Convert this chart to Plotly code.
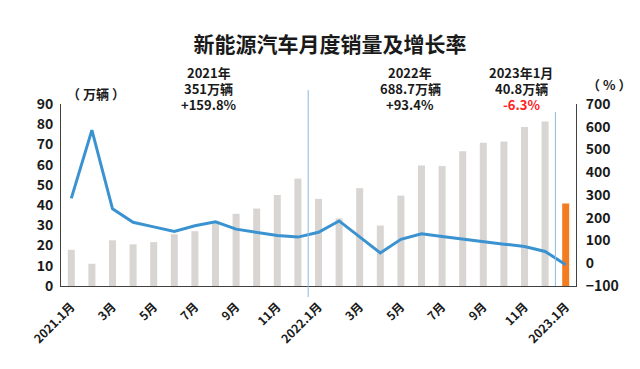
import plotly.graph_objects as go

months = ["2021.1月","2月","3月","4月","5月","6月","7月","8月","9月","10月","11月","12月",
          "2022.1月","2月","3月","4月","5月","6月","7月","8月","9月","10月","11月","12月","2023.1月"]
sales = [17.9, 11.0, 22.6, 20.6, 21.7, 25.6, 27.1, 32.1, 35.7, 38.3, 45.0, 53.1,
         43.1, 33.4, 48.4, 29.9, 44.7, 59.6, 59.3, 66.6, 70.8, 71.4, 78.6, 81.4, 40.8]
growth = [285, 585, 239, 180, 160, 140, 165, 182, 150, 136, 122, 115,
          136, 186, 117, 45, 105, 130, 118, 106, 93, 84, 74, 52, -6.3]
tick_idx = [0, 2, 4, 6, 8, 10, 12, 14, 16, 18, 20, 22, 24]
tick_text = ["2021.1月","3月","5月","7月","9月","11月","2022.1月","3月","5月","7月","9月","11月","2023.1月"]

FONT = "Noto Sans CJK SC"
xs = list(range(len(months)))
bar_colors = ["#D9D5D2"] * (len(months) - 1) + ["#F47C20"]

# page body has an 8px margin; work in figure coordinates = screen - 8
FW, FH = 624, 353
L, T, W, H = 53, 96, 515, 182
OFF = 8

fig = go.Figure()
fig.add_trace(go.Bar(x=xs, y=sales, marker=dict(color=bar_colors, line=dict(width=0)),
                     width=0.34, hovertext=months, name="销量"))
fig.add_trace(go.Scatter(x=xs, y=growth, yaxis="y2", mode="lines",
                         line=dict(color="#3A93D0", width=3), name="增长率"))

def px(xs_): return (xs_ - OFF - L) / W
def py(ys_): return (T + H - (ys_ - OFF)) / H

for xv, y0s, y1s in [(11.5, 297, 90), (23.5, 286, 112)]:
    fig.add_shape(type="line", xref="x", yref="paper", x0=xv, x1=xv, y0=py(y0s), y1=py(y1s),
                  line=dict(color="#8DBBE0", width=1))

def ann(text, x, y, size=13, color="#1a1a1a", height=None):
    fig.add_annotation(text=text, x=px(x), y=py(y), xref="paper", yref="paper", showarrow=False,
                       font=dict(family=FONT, size=size, color=color), height=height,
                       xanchor="center", yanchor="middle", align="center", valign="middle")

for cx, lines in [(209, ["2021年", "351万辆", "+159.8%"]),
                  (410, ["2022年", "688.7万辆", "+93.4%"]),
                  (521, ["2023年1月", "40.8万辆", "-6.3%"])]:
    for i, t in enumerate(lines):
        col = "#FF2020" if t.startswith("-") else "#1a1a1a"
        ann("<b>%s</b>" % t, cx, 73 + 15.5 * i, color=col, height=15)

ann("<b>（ 万辆 ）</b>", 96, 93)
ann("<b>（ % ）</b>", 609, 85)

fig.update_layout(
    width=FW, height=FH,
    margin=dict(l=L, r=FW - L - W, t=T, b=FH - T - H),
    paper_bgcolor="white", plot_bgcolor="white",
    showlegend=False,
    title=dict(text="<b>新能源汽车月度销量及增长率</b>", x=(330 - OFF) / FW, xanchor="center",
               y=1 - (45 - OFF) / FH, yanchor="middle",
               font=dict(family=FONT, size=21, color="#1a1a1a")),
    xaxis=dict(range=[-0.5, 24.5], tickvals=tick_idx, ticktext=tick_text, tickangle=-45,
               tickfont=dict(family=FONT, size=12, color="#1a1a1a", weight="bold"),
               showline=True, linecolor="#404040", linewidth=1, showgrid=False, zeroline=False,
               ticks="", automargin=False, ticklabelstandoff=8),
    yaxis=dict(range=[0, 90], dtick=10, showline=True, linecolor="#404040", linewidth=1,
               showgrid=False, zeroline=False, automargin=False, ticklabelstandoff=4,
               tickfont=dict(family=FONT, size=14, color="#1a1a1a", weight="bold")),
    yaxis2=dict(range=[-100, 700], dtick=100, overlaying="y", side="right", showline=True,
                linecolor="#404040", linewidth=1, showgrid=False, zeroline=False, automargin=False,
                ticklabelstandoff=6,
                tickfont=dict(family=FONT, size=14, color="#1a1a1a", weight="bold")),
)

fig.write_html("out.html")
